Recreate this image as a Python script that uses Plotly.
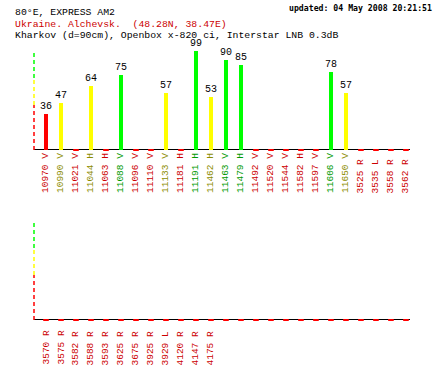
import plotly.graph_objects as go

# ---- data ----
top_freqs = ["10970", "10990", "11021", "11044", "11063", "11088", "11096", "11110",
             "11133", "11181", "11191", "11462", "11463", "11479", "11492", "11520",
             "11544", "11582", "11597", "11606", "11650", "3525", "3535", "3558", "3562"]
top_pols = ["V", "V", "V", "H", "H", "V", "V", "V", "V", "H", "H", "H", "V", "H",
            "V", "V", "V", "H", "V", "V", "V", "R", "L", "R", "R"]
top_values = [36, 47, 0, 64, 0, 75, 0, 0, 57, 0, 99, 53, 90, 85, 0, 0, 0, 0, 0, 78, 57,
              0, 0, 0, 0]

bottom_freqs = ["3570", "3575", "3582", "3588", "3593", "3625", "3675", "3925",
                "3929", "4120", "4147", "4175"]
bottom_pols = ["R", "R", "R", "R", "R", "R", "R", "R", "L", "R", "R", "R"]
bottom_values = [0, 0, 0, 0, 0, 0, 0, 0, 0, 0, 0, 0, 0, 0, 0, 0, 0, 0, 0, 0, 0, 0, 0, 0, 0]

title_lines = ["80°E, EXPRESS AM2",
               "Ukraine. Alchevsk.  (48.28N, 38.47E)",
               "Kharkov (d=90cm), Openbox x-820 ci, Interstar LNB 0.3dB"]
updated_text = "updated: 04 May 2008 20:21:51"

# quality bands for the dashed y axis
band_limits = [0, 45, 72, 100]

W, H = 440, 370
FONT = "Liberation Mono"
BAR_COL = {"red": "#ff0000", "yellow": "#ffff00", "green": "#00ff00"}
LBL_COL = {"red": "#cc0000", "yellow": "#8c8c00", "green": "#009900"}


def band(v):
    if v >= band_limits[2]:
        return "green"
    if v >= band_limits[1]:
        return "yellow"
    return "red"


fig = go.Figure()

x0p, x1p = 34 / W, 410 / W
panels = [
    dict(xa="x", ya="y", vals=top_values, freqs=top_freqs, pols=top_pols,
         dom=[220 / H, 320 / H], label_bottom=195),
    dict(xa="x2", ya="y2", vals=bottom_values, freqs=bottom_freqs, pols=bottom_pols,
         dom=[50 / H, 150 / H], label_bottom=367),
]

annotations = []
shapes = []
for p in panels:
    idx = list(range(len(p["vals"])))
    nz = [i for i in idx if p["vals"][i] > 0]
    zz = [i for i in idx if p["vals"][i] == 0]
    fig.add_trace(go.Bar(
        x=nz, y=[p["vals"][i] for i in nz], width=0.27,
        marker=dict(color=[BAR_COL[band(p["vals"][i])] for i in nz], line=dict(width=0)),
        xaxis=p["xa"], yaxis=p["ya"], showlegend=False, hoverinfo="skip"))
    fig.add_trace(go.Scatter(
        x=zz, y=[0] * len(zz), mode="markers",
        marker=dict(symbol="line-ew", size=4, line=dict(color="#ff0000", width=2)),
        xaxis=p["xa"], yaxis=p["ya"], showlegend=False, hoverinfo="skip", cliponaxis=False))
    # value labels
    for i in nz:
        annotations.append(dict(x=i, y=p["vals"][i], xref=p["xa"], yref=p["ya"],
                                text=str(p["vals"][i]), showarrow=False,
                                xanchor="center", yanchor="bottom", yshift=0,
                                font=dict(family=FONT, size=10, color="black")))
    # category labels
    for i, (f, pl) in enumerate(zip(p["freqs"], p["pols"])):
        annotations.append(dict(x=i, y=(H - p["label_bottom"]) / H, xref=p["xa"], yref="paper",
                                text=f + " " + pl, showarrow=False, textangle=-90,
                                xanchor="center", yanchor="bottom",
                                font=dict(family=FONT, size=9.5,
                                          color=LBL_COL[band(p["vals"][i])])))
    # baseline
    shapes.append(dict(type="line", xref="paper", yref=p["ya"], x0=x0p, x1=x1p, y0=0, y1=0,
                       line=dict(color="black", width=2), layer="below"))
    # dashed coloured y axis
    for (lo, hi, c) in zip(band_limits[:-1], band_limits[1:], ["red", "yellow", "green"]):
        shapes.append(dict(type="line", xref="paper", yref=p["ya"], x0=x0p, x1=x0p,
                           y0=lo, y1=hi, line=dict(color=BAR_COL[c], width=1.5, dash="4px,3px"),
                           layer="below"))

# titles
title_cols = ["black", "#cc0000", "black"]
title_y = [12, 24, 35]
for t, c, yy in zip(title_lines, title_cols, title_y):
    annotations.append(dict(x=13 / W, y=(H - yy) / H, xref="paper", yref="paper", text=t,
                            showarrow=False, xanchor="left", yanchor="middle",
                            font=dict(family=FONT, size=9.8, color=c)))
annotations.append(dict(x=434 / W, y=(H - 8) / H, xref="paper", yref="paper",
                        text="<b>" + updated_text + "</b>", showarrow=False,
                        xanchor="right", yanchor="middle",
                        font=dict(family="DejaVu Sans Mono", size=8.2, color="black")))

axis_common = dict(showgrid=False, zeroline=False, showticklabels=False, showline=False,
                   ticks="", fixedrange=True)
fig.update_layout(
    width=W, height=H, margin=dict(l=0, r=0, t=0, b=0),
    paper_bgcolor="white", plot_bgcolor="white",
    xaxis=dict(domain=[x0p, x1p], range=[-0.8, 24.27], anchor="y", **axis_common),
    yaxis=dict(domain=panels[0]["dom"], range=[0, 100], anchor="x", **axis_common),
    xaxis2=dict(domain=[x0p, x1p], range=[-0.8, 24.27], anchor="y2", **axis_common),
    yaxis2=dict(domain=panels[1]["dom"], range=[0, 100], anchor="x2", **axis_common),
    annotations=annotations, shapes=shapes, bargap=0,
)
fig.update_traces(selector=dict(type="bar"), cliponaxis=False)

fig.write_html("out.html", config={"displayModeBar": False},
               post_script="document.body.style.margin='0px';document.body.style.overflow='hidden';")
